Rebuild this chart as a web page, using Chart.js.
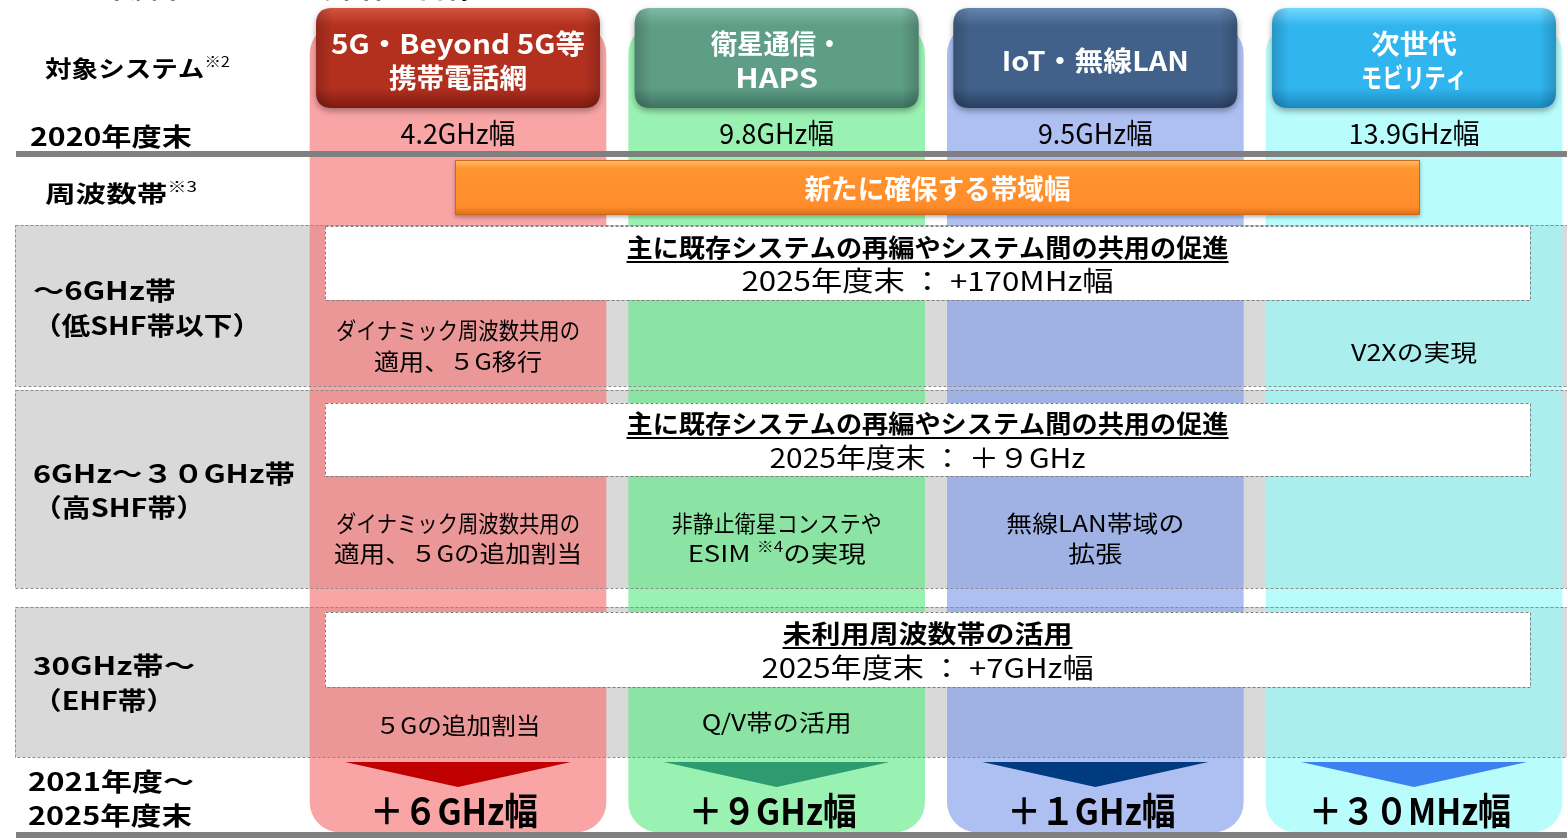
<!DOCTYPE html>
<html><head><meta charset="utf-8">
<script src="https://cdn.jsdelivr.net/npm/chart.js@4.4.1/dist/chart.umd.min.js"></script>
<style>html,body{margin:0;padding:0;background:#fff;overflow:hidden}canvas{display:block}</style>
</head><body>
<canvas id="c" width="1567" height="838"></canvas>
<script>
const FONT = '"Noto Sans CJK JP","Noto Sans",sans-serif';

// ---------------- data ----------------
const systemNames = ["5G・Beyond 5G等携帯電話網", "衛星通信・HAPS", "IoT・無線LAN", "次世代モビリティ"];
const systemLines = [["5G・Beyond 5G等", "携帯電話網"], ["衛星通信・", "HAPS"], ["IoT・無線LAN"], ["次世代", "モビリティ"]];
const bandwidth2020GHz = [4.2, 9.8, 9.5, 13.9];
const addedAmount = [6, 9, 1, 30];
const addedUnit = ["GHz", "GHz", "GHz", "MHz"];
const bandNames = [["～6GHz帯", "（低SHF帯以下）"], ["6GHz～３０GHz帯", "（高SHF帯）"], ["30GHz帯～", "（EHF帯）"]];
const bandPolicies = ["主に既存システムの再編やシステム間の共用の促進", "主に既存システムの再編やシステム間の共用の促進", "未利用周波数帯の活用"];
const bandTargets = ["+170MHz幅", "＋９GHz", "+7GHz幅"];
const bandMeasures = [
  [["ダイナミック周波数共用の", "適用、５G移行"], [], [], ["V2Xの実現"]],
  [["ダイナミック周波数共用の", "適用、５Gの追加割当"], ["非静止衛星コンステや", "ESIM ※4の実現"], ["無線LAN帯域の", "拡張"], []],
  [["５Gの追加割当"], ["Q/V帯の活用"], [], []]
];
const rowHeads = ["対象システム※2", "2020年度末", "周波数帯※3", "2021年度～", "2025年度末"];
const bannerText = "新たに確保する帯域幅";
const titleText = "【2025年度末までの帯域確保の目標】";

// ---------------- layout / style ----------------
const L = {
  colTop: 24, colBottom: 832, colW: 296, colR: 30,
  rows: [[225, 386], [390, 588], [607, 757]],
  boxes: [[226, 300], [403, 476], [612, 687]],
  boxX: [325, 1530], rowX: [15, 1570],
  headY: [8, 108], headPad: 6,
  bannerX: [455, 1420], bannerY: [160, 215],
  triY: [762, 787], triHalf: 113,
  lines: [[151, 6], [832, 6]]
};
const colFill = ['rgba(246,111,112,0.63)', 'rgba(95,234,133,0.63)', 'rgba(126,153,234,0.63)', 'rgba(142,250,250,0.63)'];
const headGrad = [['#D25440', '#B3301F', '#7E1A10'], ['#80BAA4', '#5E9D86', '#3D7260'], ['#6585AE', '#41618B', '#283F60'], ['#72D8FF', '#30B5EE', '#1A88C0']];
const triColor = ['#C00000', '#2E9A70', '#003B80', '#3B82F0'];
const fitW = {
  "対象システム※2": 185, "2020年度末": 162, "周波数帯※3": 152,
  "～6GHz帯": 143, "（低SHF帯以下）": 228, "6GHz～３０GHz帯": 262, "（高SHF帯）": 172, "30GHz帯～": 162, "（EHF帯）": 142,
  "2021年度～": 166, "2025年度末": 164,
  "5G・Beyond 5G等": 254, "携帯電話網": 138, "衛星通信・": 132, "HAPS": 83, "IoT・無線LAN": 187, "次世代": 86, "モビリティ": 106,
  "ダイナミック周波数共用の": 244, "適用、５G移行": 168, "V2Xの実現": 126, "適用、５Gの追加割当": 248,
  "非静止衛星コンステや": 210, "ESIM ※4の実現": 178, "無線LAN帯域の": 178, "拡張": 54,
  "５Gの追加割当": 165, "Q/V帯の活用": 150,
  "主に既存システムの再編やシステム間の共用の促進": 602, "未利用周波数帯の活用": 290,
  "新たに確保する帯域幅": 266, "【2025年度末までの帯域確保の目標】": 500
};

function toFull(s) { return String(s).replace(/[0-9]/g, d => String.fromCharCode(d.charCodeAt(0) + 0xFEE0)); }

function segsOf(line, size, weight, color) {
  return line.split(/(※\d)/).filter(t => t.length).map(t =>
    /^※\d$/.test(t) ? { t, size: size * 0.62, weight: 'normal', color, dy: -size * 0.3 } : { t, size, weight, color });
}

function drawRich(ctx, segs, x, y, align, targetW, underline) {
  ctx.save();
  let total = 0; const ws = [];
  segs.forEach(s => { ctx.font = `${s.weight || 'normal'} ${s.size}px ${FONT}`; const w = ctx.measureText(s.t).width; ws.push(w); total += w; });
  const sx = targetW ? targetW / total : 1;
  const dw = total * sx;
  const x0 = align === 'center' ? x - dw / 2 : (align === 'right' ? x - dw : x);
  ctx.textBaseline = 'middle'; ctx.textAlign = 'left';
  let cx = x0;
  segs.forEach((s, i) => {
    ctx.save();
    ctx.font = `${s.weight || 'normal'} ${s.size}px ${FONT}`;
    ctx.fillStyle = s.color || '#000';
    ctx.translate(cx, y + (s.dy || 0)); ctx.scale(sx, 1);
    ctx.fillText(s.t, 0, 0);
    ctx.restore();
    cx += ws[i] * sx;
  });
  if (underline) {
    ctx.fillStyle = segs[0].color || '#000';
    ctx.fillRect(x0, y + segs[0].size * 0.56, dw, 2);
  }
  ctx.restore();
}
function text(ctx, line, x, y, size, weight, color, align, underline) {
  drawRich(ctx, segsOf(line, size, weight, color), x, y, align || 'center', fitW[line], underline);
}
function rr(ctx, x, y, w, h, r) {
  ctx.beginPath();
  ctx.moveTo(x + r, y); ctx.lineTo(x + w - r, y); ctx.quadraticCurveTo(x + w, y, x + w, y + r);
  ctx.lineTo(x + w, y + h - r); ctx.quadraticCurveTo(x + w, y + h, x + w - r, y + h);
  ctx.lineTo(x + r, y + h); ctx.quadraticCurveTo(x, y + h, x, y + h - r);
  ctx.lineTo(x, y + r); ctx.quadraticCurveTo(x, y, x + r, y); ctx.closePath();
}

const infoPlugin = {
  id: 'info',
  beforeDatasetsDraw(chart) {
    const { ctx } = chart; const ys = chart.scales.y;
    ctx.save();
    text(ctx, titleText, 4, -14, 30, 'bold', '#000', 'left');
    ctx.fillStyle = '#D9D9D9';
    L.rows.forEach(([a, b]) => {
      const y0 = ys.getPixelForValue(a), y1 = ys.getPixelForValue(b);
      ctx.fillRect(L.rowX[0], y0, L.rowX[1] - L.rowX[0], y1 - y0);
    });
    ctx.restore();
  },
  afterDatasetsDraw(chart) {
    const { ctx } = chart; const xs = chart.scales.x, ys = chart.scales.y;
    const cx = i => xs.getPixelForValue(i);
    const Y = v => ys.getPixelForValue(v);
    ctx.save();
    // dashed row borders
    ctx.setLineDash([3, 2]); ctx.lineWidth = 1; ctx.strokeStyle = '#8c8c8c';
    L.rows.forEach(([a, b]) => { ctx.strokeRect(L.rowX[0] + 0.5, Y(a) + 0.5, L.rowX[1] - L.rowX[0], Y(b) - Y(a)); });
    // white boxes
    L.boxes.forEach(([a, b]) => {
      ctx.fillStyle = '#fff'; ctx.fillRect(L.boxX[0], Y(a), L.boxX[1] - L.boxX[0], Y(b) - Y(a));
      ctx.strokeStyle = '#7f7f7f'; ctx.strokeRect(L.boxX[0] + 0.5, Y(a) + 0.5, L.boxX[1] - L.boxX[0], Y(b) - Y(a));
    });
    ctx.setLineDash([]);
    // gray rules
    ctx.fillStyle = '#808080';
    L.lines.forEach(([y, h]) => ctx.fillRect(16, Y(y), 1567, h));
    // header boxes
    systemLines.forEach((lines, i) => {
      const x0 = cx(i) - L.colW / 2 + L.headPad, w = L.colW - 2 * L.headPad;
      const y0 = Y(L.headY[0]), h = Y(L.headY[1]) - y0;
      ctx.save();
      ctx.shadowColor = 'rgba(0,0,0,0.35)'; ctx.shadowBlur = 6; ctx.shadowOffsetY = 3;
      const g = ctx.createLinearGradient(0, y0, 0, y0 + h);
      g.addColorStop(0, headGrad[i][0]); g.addColorStop(0.18, headGrad[i][1]); g.addColorStop(0.8, headGrad[i][1]); g.addColorStop(1, headGrad[i][2]);
      rr(ctx, x0, y0, w, h, 16); ctx.fillStyle = g; ctx.fill();
      ctx.restore();
      ctx.save();
      const gx = ctx.createLinearGradient(x0, 0, x0 + w, 0);
      gx.addColorStop(0, 'rgba(0,0,0,0.18)'); gx.addColorStop(0.06, 'rgba(0,0,0,0)'); gx.addColorStop(0.94, 'rgba(0,0,0,0)'); gx.addColorStop(1, 'rgba(0,0,0,0.18)');
      rr(ctx, x0, y0, w, h, 16); ctx.fillStyle = gx; ctx.fill();
      ctx.restore();
      const mid = (y0 + y0 + h) / 2 + 3;
      if (lines.length === 1) text(ctx, lines[0], cx(i), mid, 27, 'bold', '#fff');
      else { text(ctx, lines[0], cx(i), mid - 17, 27, 'bold', '#fff'); text(ctx, lines[1], cx(i), mid + 17, 27, 'bold', '#fff'); }
    });
    // 2020 values
    bandwidth2020GHz.forEach((v, i) => {
      const s = v + 'GHz幅';
      drawRich(ctx, [{ t: s, size: 28, weight: 'normal', color: '#000' }], cx(i), Y(133), 'center', s.length * 16.4);
    });
    // orange banner
    {
      const x0 = L.bannerX[0], y0 = Y(L.bannerY[0]), w = L.bannerX[1] - L.bannerX[0], h = Y(L.bannerY[1]) - y0;
      ctx.save();
      ctx.shadowColor = 'rgba(0,0,0,0.3)'; ctx.shadowBlur = 4; ctx.shadowOffsetY = 2;
      const g = ctx.createLinearGradient(0, y0, 0, y0 + h);
      g.addColorStop(0, '#FFC27A'); g.addColorStop(0.15, '#FF942F'); g.addColorStop(0.85, '#FF8C2A'); g.addColorStop(1, '#D9701A');
      ctx.fillStyle = g; ctx.fillRect(x0, y0, w, h);
      ctx.restore();
      ctx.strokeStyle = '#C86A1A'; ctx.lineWidth = 1; ctx.strokeRect(x0 + 0.5, y0 + 0.5, w - 1, h - 1);
      text(ctx, bannerText, (x0 + x0 + w) / 2, y0 + h / 2 + 1, 27, 'bold', '#fff');
    }
    // row heads
    text(ctx, rowHeads[0], 45, 68, 23, 'bold', '#000', 'left');
    text(ctx, rowHeads[1], 30, 136, 25, 'bold', '#000', 'left');
    text(ctx, rowHeads[2], 45, 193, 23, 'bold', '#000', 'left');
    text(ctx, rowHeads[3], 28, 781, 25, 'bold', '#000', 'left');
    text(ctx, rowHeads[4], 28, 815, 25, 'bold', '#000', 'left');
    // band rows
    const bandLabelY = [[290, 325], [473, 507], [665, 700]];
    const policyY = [[247, 281], [423, 458], [633, 668]];
    const measureY = [[[330, 361], [], [], [352]], [[523, 553], [523, 553], [523, 553], []], [[725], [722], [], []]];
    const targetW = [372, 316, 332];
    const boxCx = (L.boxX[0] + L.boxX[1]) / 2;
    bandNames.forEach((nm, r) => {
      text(ctx, nm[0], 33, Y(bandLabelY[r][0]), 25, 'bold', '#000', 'left');
      text(ctx, nm[1], 33, Y(bandLabelY[r][1]), 25, 'bold', '#000', 'left');
      text(ctx, bandPolicies[r], boxCx, Y(policyY[r][0]), 25, 'bold', '#000', 'center', true);
      drawRich(ctx, [{ t: '2025年度末 ： ' + bandTargets[r], size: 27, weight: 'normal', color: '#000' }], boxCx, Y(policyY[r][1]), 'center', targetW[r]);
      bandMeasures[r].forEach((lines, i) => {
        lines.forEach((ln, k) => text(ctx, ln, cx(i), Y(measureY[r][i][k]), 23, 'normal', '#000'));
      });
    });
    // triangles + added values
    addedAmount.forEach((v, i) => {
      ctx.beginPath();
      ctx.moveTo(cx(i) - L.triHalf, Y(L.triY[0])); ctx.lineTo(cx(i) + L.triHalf, Y(L.triY[0])); ctx.lineTo(cx(i), Y(L.triY[1])); ctx.closePath();
      ctx.fillStyle = triColor[i]; ctx.fill();
      const s = '＋' + toFull(v) + addedUnit[i] + '幅';
      const w = 34 * (1 + String(v).length) + 100;
      drawRich(ctx, [{ t: s, size: 37, weight: 'bold', color: '#000' }], cx(i) - 4, Y(811), 'center', w);
    });
    ctx.restore();
  }
};

new Chart(document.getElementById('c'), {
  type: 'bar',
  data: {
    labels: systemNames,
    datasets: [{
      data: systemNames.map(() => [L.colTop, L.colBottom]),
      backgroundColor: colFill,
      borderWidth: 0,
      borderRadius: L.colR,
      borderSkipped: false,
      barThickness: L.colW,
      clip: false
    }]
  },
  options: {
    responsive: false, animation: false, devicePixelRatio: 1, events: [],
    layout: { padding: { left: 458, right: 153, top: 0, bottom: 0 } },
    scales: {
      x: { type: 'category', offset: false, display: false },
      y: { type: 'linear', min: 0, max: 838, reverse: true, display: false }
    },
    plugins: { legend: { display: false }, tooltip: { enabled: false } }
  },
  plugins: [infoPlugin]
});
</script>
</body></html>
